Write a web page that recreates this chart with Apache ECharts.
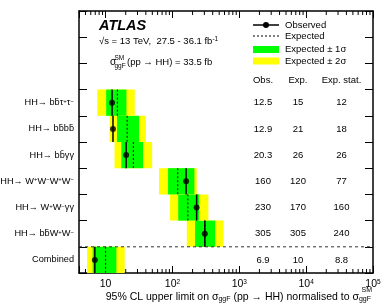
<!DOCTYPE html>
<html>
<head>
<meta charset="utf-8">
<script src="https://cdn.jsdelivr.net/npm/echarts@6/dist/echarts.min.js"></script>
<style>
html, body { margin: 0; padding: 0; background: #fff; }
#chart { width: 381px; height: 305px; }
</style>
</head>
<body>
<div id="chart"></div>
<script>
// rows from bottom (Combined) to top
const channels = [
  'Combined',
  'HH→ bb\u0304W{sup|+}W{sup|−}',
  'HH→ W{sup|+}W{sup|−}γγ',
  'HH→ W{sup|+}W{sup|−}W{sup|+}W{sup|−}',
  'HH→ bb\u0304γγ',
  'HH→ bb\u0304bb\u0304',
  'HH→ bb\u0304τ{sup|+}τ{sup|−}'
]
const observed = [6.9, 305, 230, 160, 20.3, 12.9, 12.5]
const expected = [10, 305, 170, 120, 26, 21, 15]
const expStat = [8.8, 240, 160, 77, 26, 18, 12]
const band1Lo = [6.4, 218, 122, 86, 17.2, 14.8, 10.2]
const band1Hi = [14.5, 436, 250, 213, 36.4, 31.7, 20.5]
const band2Lo = [5.3, 164, 92, 63, 13.6, 11.5, 7.5]
const band2Hi = [19.3, 581, 345, 231, 49.7, 40, 27.3]
const xTickLabels = { 10: '10', 100: '10{sup|2}', 1000: '10{sup|3}', 10000: '10{sup|4}', 100000: '10{sup|5}' }

const FONT = "'Liberation Sans', Arial, sans-serif"
const GREEN = '#00ff00'
const YELLOW = '#ffff00'

const yCats = channels.concat(['', '', ''])
const chart = echarts.init(document.getElementById('chart'))

const supStyle = { fontSize: 6, fontFamily: FONT, color: '#000', verticalAlign: 'top', lineHeight: 7, padding: [0, 0, 4, 0] }

const axisX = (pos) => ({
  type: 'log',
  logBase: 10,
  min: 4,
  max: 100000,
  position: pos,
  axisLine: { show: true, onZero: false, lineStyle: { color: '#000', width: 1.5 } },
  axisTick: { show: true, inside: true, length: 7, lineStyle: { color: '#000', width: 1 } },
  splitLine: { show: false },
  axisLabel: pos === 'bottom' ? {
    show: true,
    margin: 6,
    fontSize: 10.5,
    fontFamily: FONT,
    color: '#000',
    formatter: (v) => {
      const k = Math.round(v)
      return xTickLabels[k] && Math.abs(v - k) < 1e-6 ? xTickLabels[k] : ''
    },
    rich: { sup: Object.assign({}, supStyle, { fontSize: 6.5 }) }
  } : { show: false }
})

const axisY = (pos) => ({
  type: 'category',
  data: yCats,
  position: pos,
  boundaryGap: true,
  axisLine: { show: true, onZero: false, lineStyle: { color: '#000', width: 1.5 } },
  axisTick: { show: true, inside: true, length: 8, lineStyle: { color: '#000', width: 1 } },
  splitLine: { show: false },
  axisLabel: pos === 'left' ? {
    show: true,
    margin: 5,
    fontSize: 9.2,
    fontFamily: FONT,
    color: '#000',
    rich: { sup: supStyle }
  } : { show: false }
})

const rowData = channels.map((_, i) => [i, band2Lo[i], band2Hi[i], band1Lo[i], band1Hi[i], observed[i], expected[i]])

const option = {
  animation: false,
  grid: { left: 79, right: 8, top: 11, bottom: 32, containLabel: false, outerBoundsMode: 'none' },
  xAxis: [axisX('bottom'), axisX('top')],
  yAxis: [axisY('left'), axisY('right')],
  series: [
    {
      type: 'custom',
      name: 'bands',
      data: rowData,
      encode: { x: [1, 2, 3, 4], y: 0 },
      renderItem: (params, api) => {
        const i = api.value(0)
        const h = api.size([0, 1])[1]
        const y0 = api.coord([10, i])[1] - h / 2
        const a2 = api.coord([api.value(1), i])[0]
        const b2 = api.coord([api.value(2), i])[0]
        const a1 = api.coord([api.value(3), i])[0]
        const b1 = api.coord([api.value(4), i])[0]
        return {
          type: 'group',
          children: [
            { type: 'rect', shape: { x: a2, y: y0, width: b2 - a2, height: h }, style: { fill: YELLOW } },
            { type: 'rect', shape: { x: a1, y: y0, width: b1 - a1, height: h }, style: { fill: GREEN } }
          ]
        }
      },
      z: 1
    },
    {
      type: 'custom',
      name: 'lines',
      data: rowData,
      encode: { x: [5, 6], y: 0 },
      renderItem: (params, api) => {
        const i = api.value(0)
        const h = api.size([0, 1])[1]
        const yc = api.coord([10, i])[1]
        const xo = api.coord([api.value(5), i])[0]
        const xe = api.coord([api.value(6), i])[0]
        return {
          type: 'group',
          children: [
            { type: 'line', shape: { x1: xe, y1: yc - h / 2, x2: xe, y2: yc + h / 2 }, style: { stroke: '#000', lineWidth: 1, lineDash: [2, 2] } },
            { type: 'line', shape: { x1: xo, y1: yc - h / 2, x2: xo, y2: yc + h / 2 }, style: { stroke: '#000', lineWidth: 1.5 } }
          ]
        }
      },
      z: 2
    },
    {
      type: 'scatter',
      name: 'Observed',
      data: observed.map((v, i) => [v, i]),
      symbol: 'circle',
      symbolSize: 6,
      itemStyle: { color: '#000' },
      z: 3
    },
    {
      type: 'custom',
      name: 'separator',
      data: [[10, 0]],
      renderItem: (params, api) => {
        const cs = params.coordSys
        const h = api.size([0, 1])[1]
        const y = api.coord([10, 0])[1] - h / 2
        return { type: 'line', shape: { x1: cs.x, y1: y, x2: cs.x + cs.width, y2: y }, style: { stroke: '#333', lineWidth: 1, lineDash: [3, 3] } }
      },
      z: 2
    },
    {
      type: 'custom',
      name: 'table',
      data: channels.map((_, i) => [10, i]),
      renderItem: (params, api) => {
        const cs = params.coordSys
        const i = params.dataIndex
        const yc = api.coord([10, i])[1]
        const right = cs.x + cs.width
        const txt = (x, s) => ({ type: 'text', style: { text: s, x: x, y: yc, align: 'center', verticalAlign: 'middle', fontSize: 9.5, fontFamily: FONT, fill: '#000' } })
        return {
          type: 'group',
          children: [
            txt(right - 110, String(observed[i])),
            txt(right - 75, String(expected[i])),
            txt(right - 31.5, String(expStat[i]))
          ]
        }
      },
      z: 4
    }
  ]
}
chart.setOption(option)

// log minor ticks, legend and annotation text
const minorVals = []
for (let k = 0; k <= 4; k++) {
  for (let m = 2; m <= 9; m++) {
    const v = m * Math.pow(10, k)
    if (v > 4 && v < 100000) minorVals.push(v)
  }
}
const yBottom = 305 - 32
const yTop = 11
const graphics = []
minorVals.forEach((v) => {
  const x = chart.convertToPixel({ xAxisIndex: 0 }, v)
  graphics.push({ type: 'line', shape: { x1: x, y1: yBottom, x2: x, y2: yBottom - 4 }, style: { stroke: '#000', lineWidth: 1 } })
  graphics.push({ type: 'line', shape: { x1: x, y1: yTop, x2: x, y2: yTop + 4 }, style: { stroke: '#000', lineWidth: 1 } })
})

const t = (x, y, text, extra) => Object.assign({
  type: 'text',
  style: Object.assign({ text: text, x: x, y: y, fontSize: 9.5, fontFamily: FONT, fill: '#000', verticalAlign: 'middle', align: 'left' }, extra || {})
})

// top-left label
graphics.push(t(99, 26, 'ATLAS', { fontSize: 14.5, fontWeight: 'bold', fontStyle: 'italic' }))
graphics.push(t(99, 41, '√s = 13 TeV,  27.5 - 36.1 fb{sup|-1}', { rich: { sup: { fontSize: 6.5, fontFamily: FONT, verticalAlign: 'top', lineHeight: 7, padding: [0, 0, 4, 0] } } }))
graphics.push(t(110, 62, 'σ', { fontSize: 10 }))
graphics.push(t(114.5, 58, 'SM', { fontSize: 6.5 }))
graphics.push(t(114.5, 66, 'ggF', { fontSize: 6.5 }))
graphics.push(t(127, 62, '(pp → HH) = 33.5 fb'))

// legend
graphics.push({ type: 'line', shape: { x1: 253, y1: 25, x2: 279, y2: 25 }, style: { stroke: '#000', lineWidth: 1.5 } })
graphics.push({ type: 'circle', shape: { cx: 266, cy: 25, r: 3 }, style: { fill: '#000' } })
graphics.push({ type: 'line', shape: { x1: 253, y1: 36, x2: 279, y2: 36 }, style: { stroke: '#000', lineWidth: 1, lineDash: [2, 2] } })
graphics.push({ type: 'rect', shape: { x: 253, y: 46, width: 26, height: 7 }, style: { fill: GREEN } })
graphics.push({ type: 'rect', shape: { x: 253, y: 57.5, width: 26, height: 7 }, style: { fill: YELLOW } })
graphics.push(t(285, 25, 'Observed'))
graphics.push(t(285, 36, 'Expected'))
graphics.push(t(285, 49, 'Expected ± 1σ'))
graphics.push(t(285, 61, 'Expected ± 2σ'))

// table header
graphics.push(t(263, 80, 'Obs.', { align: 'center' }))
graphics.push(t(298, 80, 'Exp.', { align: 'center' }))
graphics.push(t(341.5, 80, 'Exp. stat.', { align: 'center' }))

// x axis title
graphics.push(t(371, 297, '95% CL upper limit on σ{sub|ggF} (pp → HH) normalised to σ{sub|ggF}', {
  align: 'right',
  fontSize: 10.5,
  rich: { sub: { fontSize: 7, fontFamily: FONT, verticalAlign: 'bottom', lineHeight: 7, padding: [5, 0, 0, 0] } }
}))
graphics.push(t(372, 290, 'SM', { align: 'right', fontSize: 7 }))

chart.setOption({ graphic: { elements: graphics } })
</script>
</body>
</html>
